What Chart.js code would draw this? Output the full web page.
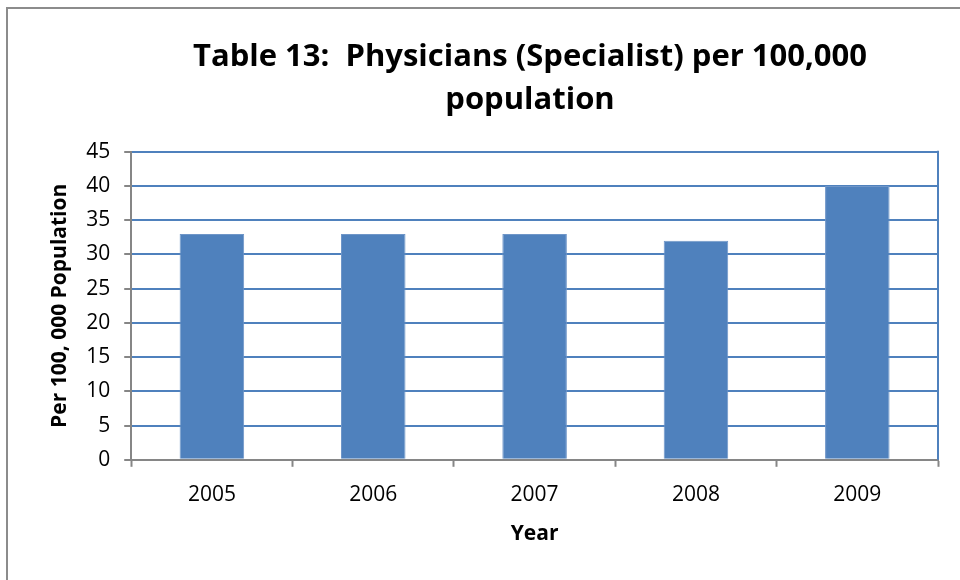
<!DOCTYPE html>
<html lang="en">
<head>
  <meta charset="UTF-8">
  <title>Table 13</title>
  <script src="https://cdn.jsdelivr.net/npm/chart.js"></script>
  <style>
    html, body { margin: 0; padding: 0; overflow: hidden; background: #fff; width: 960px; height: 580px; }
    #wrap { position: absolute; left: 0; top: 0; width: 1060px; height: 640px; }
  </style>
</head>
<body>
  <div id="wrap">
    <canvas id="myBarChart" width="1060" height="640"></canvas>
  </div>
  <script>
    // dados do grafico
    const years = ['2005', '2006', '2007', '2008', '2009'];
    const specialists = [33, 33, 33, 32, 40];
    const titleLines = ['Table 13:  Physicians (Specialist) per 100,000', 'population'];

    const FONT = "'Open Sans', 'Noto Sans', sans-serif";
    const BLUE = '#4f81bd';
    const GREY = '#868686';

    // moldura externa, titulo centrado no quadro todo e borda direita da area do grafico
    const frame = {
      id: 'frame',
      afterLayout(chart) {
        if (chart.titleBlock) {
          chart.titleBlock.left = 0;
          chart.titleBlock.right = chart.width;
        }
      },
      beforeDraw(chart) {
        const c = chart.ctx;
        c.save();
        c.fillStyle = '#fff';
        c.fillRect(0, 0, chart.width, chart.height);
        c.strokeStyle = '#8c8c8c';
        c.lineWidth = 2;
        c.strokeRect(7, 8, chart.width + 20, chart.height + 20);
        c.restore();
      },
      afterDraw(chart) {
        const a = chart.chartArea;
        const c = chart.ctx;
        c.save();
        c.strokeStyle = BLUE;
        c.lineWidth = 2;
        c.beginPath();
        c.moveTo(a.right, a.top - 1);
        c.lineTo(a.right, a.bottom);
        c.stroke();
        c.restore();
      }
    };

    const ctx = document.getElementById('myBarChart').getContext('2d');
    const myBarChart = new Chart(ctx, {
      type: 'bar',
      data: {
        labels: years,
        datasets: [{
          data: specialists,
          backgroundColor: BLUE,
          borderColor: '#6f96c8',
          borderWidth: 1,
          barPercentage: 0.4,
          categoryPercentage: 1.0
        }]
      },
      options: {
        responsive: false,
        animation: false,
        layout: {
          padding: { left: 47, right: 122, top: 8, bottom: 95 }
        },
        plugins: {
          legend: { display: false },
          tooltip: { enabled: false },
          title: {
            display: true,
            text: titleLines,
            color: '#000',
            font: { family: FONT, size: 31, weight: 'bold', lineHeight: 1.4 },
            padding: { top: 27, bottom: 30 }
          }
        },
        scales: {
          x: {
            grid: {
              offset: true,
              drawOnChartArea: false,
              drawTicks: true,
              tickLength: 7,
              tickColor: GREY,
              tickWidth: 2
            },
            border: { color: GREY, width: 2 },
            ticks: {
              color: '#000',
              padding: 16,
              font: { family: FONT, size: 21 }
            },
            title: {
              display: true,
              text: 'Year',
              color: '#000',
              font: { family: FONT, size: 21, weight: 'bold', lineHeight: 1.0 },
              padding: { top: 0, bottom: 0 }
            }
          },
          y: {
            min: 0,
            max: 45,
            ticks: {
              stepSize: 5,
              color: '#000',
              padding: 14,
              font: { family: FONT, size: 21 }
            },
            grid: {
              color: BLUE,
              lineWidth: 2,
              drawTicks: true,
              tickLength: 7,
              tickColor: GREY,
              tickWidth: 2
            },
            border: { color: GREY, width: 2 },
            title: {
              display: true,
              text: 'Per 100, 000 Population',
              color: '#000',
              font: { family: FONT, size: 21, weight: 'bold' },
              padding: { top: 0, bottom: 0 }
            }
          }
        }
      },
      plugins: [frame]
    });
  </script>
</body>
</html>
